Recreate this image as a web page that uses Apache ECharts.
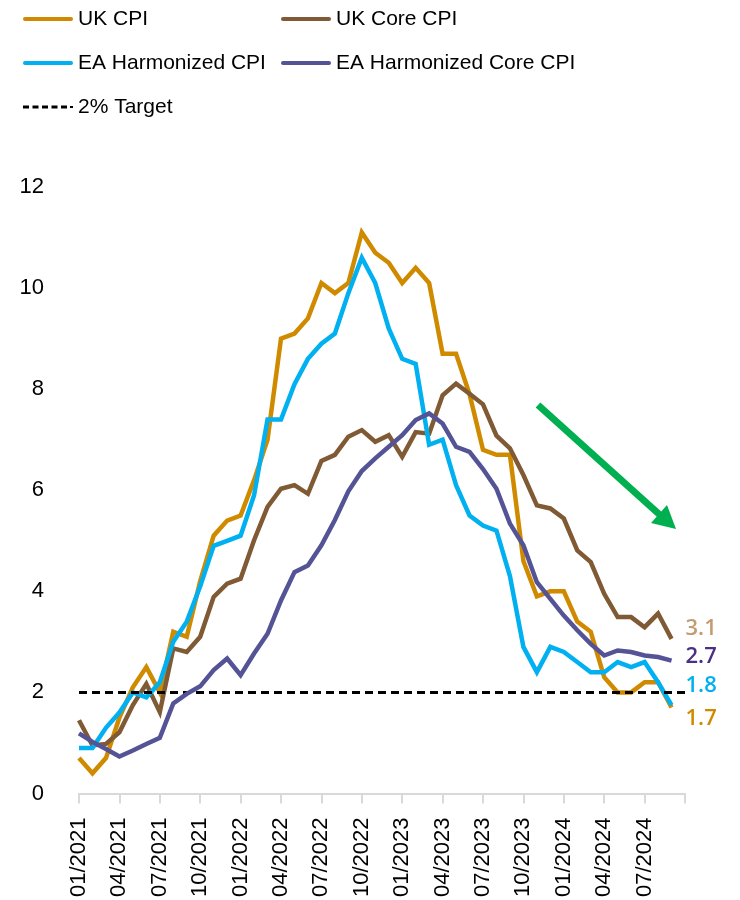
<!DOCTYPE html>
<html>
<head>
<meta charset="utf-8">
<script src="https://cdn.jsdelivr.net/npm/echarts@6/dist/echarts.min.js"></script>
<style>
html,body{margin:0;padding:0;background:#fff;}
#chart{width:740px;height:900px;}
</style>
</head>
<body>
<div id="chart"></div>
<script>
// Months 01/2021 .. 10/2024 (last category has no data; axis ends there)
const months = [
  '01/2021','02/2021','03/2021','04/2021','05/2021','06/2021','07/2021','08/2021','09/2021','10/2021','11/2021','12/2021',
  '01/2022','02/2022','03/2022','04/2022','05/2022','06/2022','07/2022','08/2022','09/2022','10/2022','11/2022','12/2022',
  '01/2023','02/2023','03/2023','04/2023','05/2023','06/2023','07/2023','08/2023','09/2023','10/2023','11/2023','12/2023',
  '01/2024','02/2024','03/2024','04/2024','05/2024','06/2024','07/2024','08/2024','09/2024','10/2024'
];

const ukCpi = [
  0.7, 0.4, 0.7, 1.5, 2.1, 2.5, 2.0, 3.2, 3.1, 4.2, 5.1, 5.4,
  5.5, 6.2, 7.0, 9.0, 9.1, 9.4, 10.1, 9.9, 10.1, 11.1, 10.7, 10.5,
  10.1, 10.4, 10.1, 8.7, 8.7, 7.9, 6.8, 6.7, 6.7, 4.6, 3.9, 4.0,
  4.0, 3.4, 3.2, 2.3, 2.0, 2.0, 2.2, 2.2, 1.7, null
];

const ukCoreCpi = [
  1.45, 0.95, 0.98, 1.21, 1.75, 2.17, 1.61, 2.87, 2.80, 3.10, 3.89, 4.15,
  4.25, 5.01, 5.67, 6.03, 6.10, 5.93, 6.58, 6.70, 7.06, 7.19, 6.96, 7.09,
  6.66, 7.15, 7.12, 7.88, 8.11, 7.91, 7.70, 7.08, 6.83, 6.30, 5.70, 5.64,
  5.44, 4.81, 4.58, 3.95, 3.49, 3.49, 3.29, 3.56, 3.06, null
];

const eaHicp = [
  0.9, 0.9, 1.3, 1.6, 2.0, 1.9, 2.2, 3.0, 3.4, 4.1, 4.9, 5.0,
  5.1, 5.9, 7.4, 7.4, 8.1, 8.6, 8.9, 9.1, 9.9, 10.6, 10.1, 9.2,
  8.6, 8.5, 6.9, 7.0, 6.1, 5.5, 5.3, 5.2, 4.3, 2.9, 2.4, 2.9,
  2.8, 2.6, 2.4, 2.4, 2.6, 2.5, 2.6, 2.2, 1.75, null
];

const eaCoreHicp = [
  1.19, 1.02, 0.88, 0.73, 0.85, 0.98, 1.10, 1.78, 1.97, 2.12, 2.44, 2.67,
  2.34, 2.77, 3.16, 3.82, 4.38, 4.51, 4.91, 5.41, 5.98, 6.38, 6.63, 6.86,
  7.09, 7.39, 7.52, 7.32, 6.86, 6.76, 6.42, 6.03, 5.34, 4.91, 4.18, 3.85,
  3.52, 3.23, 2.96, 2.73, 2.83, 2.80, 2.73, 2.70, 2.63, null
];

const targetLevel = 2;
const yTicks = { min: 0, max: 12, interval: 2 };
const seriesNames = ['UK CPI', 'UK Core CPI', 'EA Harmonized CPI', 'EA Harmonized Core CPI', '2% Target'];
const endLabelTexts = ['1.7', '3.1', '1.8', '2.7'];

const colors = ['#D08A00', '#7F5A34', '#00B0F0', '#535396'];
const labelColors = ['#D08A00', '#C49A70', '#00B0F0', '#4B2E86'];
const labelOffsets = [11, -10, -19, -4];

const chart = echarts.init(document.getElementById('chart'), null, { renderer: 'canvas' });

const legendFont = "'Liberation Sans', Arial, sans-serif";
const solidIcon = 'path://M2,0H48A2,2 0 0 1 48,4H2A2,2 0 0 1 2,0Z';
const dashIcon = 'path://M0,0H6V3H0Z M9.5,0H15.5V3H9.5Z M19,0H25V3H19Z M28.5,0H34.5V3H28.5Z M38,0H44V3H38Z M47,0.5H50V2.5H47Z';

function lineSeries(idx, data) {
  return {
    name: seriesNames[idx],
    type: 'line',
    data: data,
    symbol: 'none',
    lineStyle: { color: colors[idx], width: 4.5, join: 'miter' },
    itemStyle: { color: colors[idx] },
    endLabel: {
      show: true,
      formatter: endLabelTexts[idx],
      color: labelColors[idx],
      fontSize: 22,
      fontWeight: 600,
      fontFamily: "'Open Sans', 'Noto Sans', sans-serif",
      distance: 14,
      offset: [0, labelOffsets[idx]]
    },
    z: 2 + idx
  };
}

const legendText = { fontFamily: legendFont, fontSize: 21, color: '#000', lineHeight: 26 };

const option = {
  animation: false,
  backgroundColor: '#ffffff',
  grid: { left: 79, right: 55, top: 187, bottom: 106, containLabel: false },
  legend: [
    {
      data: [
        { name: 'UK CPI', icon: solidIcon },
        { name: 'EA Harmonized CPI', icon: solidIcon },
        { name: '2% Target', icon: dashIcon }
      ],
      orient: 'vertical',
      left: 18, top: 1,
      itemWidth: 50, itemHeight: 5, itemGap: 18,
      textStyle: legendText
    },
    {
      data: [
        { name: 'UK Core CPI', icon: solidIcon },
        { name: 'EA Harmonized Core CPI', icon: solidIcon }
      ],
      orient: 'vertical',
      left: 276, top: 1,
      itemWidth: 50, itemHeight: 5, itemGap: 18,
      textStyle: legendText
    }
  ],
  xAxis: {
    type: 'category',
    data: months,
    boundaryGap: false,
    axisLine: { lineStyle: { color: '#D9D9D9', width: 2 } },
    axisTick: {
      show: true, length: 10,
      lineStyle: { color: '#D9D9D9', width: 2 },
      interval: function (i) { return i % 3 === 0; }
    },
    axisLabel: {
      rotate: 90,
      margin: 24,
      fontSize: 22,
      color: '#000',
      fontFamily: "'Liberation Sans', Arial, sans-serif",
      interval: function (i) { return i % 3 === 0 && i < months.length - 1; }
    },
    splitLine: { show: false }
  },
  yAxis: {
    type: 'value',
    min: yTicks.min, max: yTicks.max, interval: yTicks.interval,
    axisLine: { show: false },
    axisTick: { show: false },
    splitLine: { show: false },
    axisLabel: {
      margin: 35,
      fontSize: 22,
      color: '#000',
      fontFamily: "'Liberation Sans', Arial, sans-serif"
    }
  },
  series: [
    lineSeries(0, ukCpi),
    lineSeries(1, ukCoreCpi),
    lineSeries(2, eaHicp),
    lineSeries(3, eaCoreHicp),
    {
      name: seriesNames[4],
      type: 'line',
      data: [],
      symbol: 'none',
      lineStyle: { color: '#000', width: 3, type: [8, 5] },
      itemStyle: { color: '#000' },
      z: 10,
      markLine: {
        silent: true,
        symbol: ['none', 'none'],
        label: { show: false },
        lineStyle: { color: '#000', width: 3, type: [8, 5] },
        data: [{ yAxis: targetLevel }]
      }
    }
  ],
  graphic: [
    {
      type: 'group',
      silent: true,
      children: [
        {
          type: 'line',
          shape: { x1: 538, y1: 405, x2: 660, y2: 515 },
          style: { stroke: '#00B050', lineWidth: 7 }
        },
        {
          type: 'polygon',
          shape: { points: [[676, 529], [651, 523], [667, 505]] },
          style: { fill: '#00B050' }
        }
      ]
    }
  ]
};

chart.setOption(option);
</script>
</body>
</html>
